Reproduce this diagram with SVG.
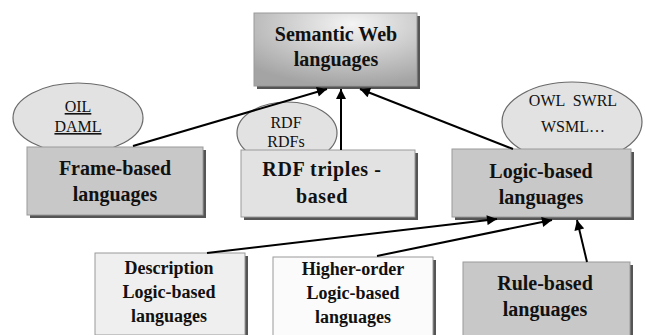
<svg xmlns="http://www.w3.org/2000/svg" width="645" height="335" viewBox="0 0 645 335">
<defs>
<radialGradient id="gSem" cx="0.6" cy="0.15" r="0.85">
<stop offset="0" stop-color="#f4f4f4"/>
<stop offset="1" stop-color="#a4a4a4"/>
</radialGradient>
<marker id="arr" viewBox="0 0 10 10" refX="10" refY="5" markerWidth="5.5" markerHeight="5" orient="auto" markerUnits="strokeWidth">
<path d="M0,0 L10,5 L0,10 Z" fill="#000"/>
</marker>
</defs>
<style>
.sh{fill:#555;}
.bx{stroke:#9a9a9a;stroke-width:1;}
.ell{fill:#e2e2e2;stroke:#6a6a6a;stroke-width:1.2;}
text{font-family:'Liberation Serif','DejaVu Serif',serif;text-anchor:middle;fill:#111;}
.t{font-weight:bold;font-size:20px;}
.ts{font-weight:bold;font-size:18px;}
.te{font-size:16px;}
.cn line{stroke:#000;stroke-width:2;marker-end:url(#arr);}
</style>

<g id="semantic">
<rect class="sh" x="257" y="16" width="163" height="73"/>
<rect class="bx" x="254" y="13" width="163" height="73" fill="url(#gSem)"/>
<text class="t" x="336" y="41">Semantic Web</text>
<text class="t" x="336" y="66">languages</text>
</g>

<g id="oil">
<ellipse class="ell" cx="78" cy="118" rx="65" ry="35"/>
<text class="te" x="78" y="112" text-decoration="underline">OIL</text>
<text class="te" x="78" y="132" text-decoration="underline">DAML</text>
</g>

<g id="rdf">
<ellipse class="ell" cx="287" cy="133" rx="50" ry="31"/>
<text class="te" x="286" y="128">RDF</text>
<text class="te" x="286" y="147">RDFs</text>
</g>

<g id="owl">
<ellipse class="ell" cx="572" cy="122" rx="70" ry="40"/>
<text class="te" x="573" y="106" xml:space="preserve">OWL  SWRL</text>
<text class="te" x="573" y="132">WSML…</text>
</g>

<g id="frame">
<rect class="sh" x="30" y="150" width="176" height="68"/>
<rect class="bx" x="27" y="147" width="176" height="68" fill="#c8c8c8"/>
<text class="t" x="115" y="175">Frame-based</text>
<text class="t" x="115" y="201">languages</text>
</g>

<g id="rdftriples">
<rect class="sh" x="244" y="153" width="174" height="67"/>
<rect class="bx" x="241" y="150" width="174" height="67" fill="#e2e2e2"/>
<text class="t" x="322" y="176" letter-spacing="0.6">RDF triples -</text>
<text class="t" x="322" y="203" letter-spacing="0.6">based</text>
</g>

<g id="logic">
<rect class="sh" x="455" y="152" width="179" height="68"/>
<rect class="bx" x="452" y="149" width="179" height="68" fill="#c8c8c8"/>
<text class="t" x="541" y="178">Logic-based</text>
<text class="t" x="541" y="204">languages</text>
</g>

<g id="description">
<rect class="sh" x="98" y="256" width="150" height="82"/>
<rect class="bx" x="95" y="253" width="150" height="82" fill="#efefef"/>
<text class="ts" x="169" y="274">Description</text>
<text class="ts" x="169" y="298">Logic-based</text>
<text class="ts" x="169" y="322">languages</text>
</g>

<g id="higher">
<rect class="sh" x="276" y="260" width="160" height="80"/>
<rect class="bx" x="273" y="257" width="160" height="80" fill="#fbfbfb"/>
<text class="ts" x="353" y="275">Higher-order</text>
<text class="ts" x="353" y="299">Logic-based</text>
<text class="ts" x="353" y="323">languages</text>
</g>

<g id="rule">
<rect class="sh" x="466" y="265" width="167" height="75"/>
<rect class="bx" x="463" y="262" width="167" height="75" fill="#c8c8c8"/>
<text class="t" x="545" y="290">Rule-based</text>
<text class="t" x="545" y="316">languages</text>
</g>

<g id="connectors" class="cn">
<line x1="133" y1="146" x2="327" y2="89"/>
<line x1="341" y1="150" x2="341" y2="89"/>
<line x1="513" y1="149" x2="360" y2="89"/>
<line x1="207" y1="253" x2="497" y2="219"/>
<line x1="377" y1="256" x2="552" y2="220"/>
<line x1="587" y1="262" x2="577" y2="220"/>
</g>
</svg>
